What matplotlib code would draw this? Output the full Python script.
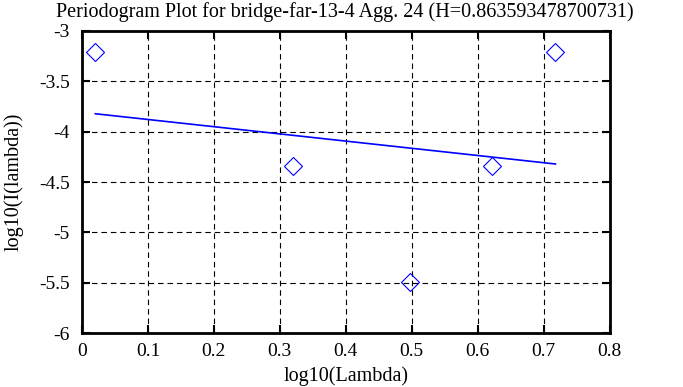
import matplotlib
matplotlib.use("Agg")
import matplotlib.pyplot as plt

# Data
log_lambda = [0.0202, 0.320, 0.497, 0.622, 0.718]
log_I = [-3.213, -4.341, -5.49, -4.341, -3.213]
fit_x = [0.0202, 0.718]
fit_y = [-3.822, -4.321]
x_ticks = [0, 0.1, 0.2, 0.3, 0.4, 0.5, 0.6, 0.7, 0.8]
y_ticks = [-6, -5.5, -5, -4.5, -4, -3.5, -3]
x_labels = ["0", "0.1", "0.2", "0.3", "0.4", "0.5", "0.6", "0.7", "0.8"]
y_labels = ["-6", "-5.5", "-5", "-4.5", "-4", "-3.5", "-3"]

plt.rcParams['font.family'] = ['Liberation Serif', 'DejaVu Serif']
plt.rcParams['axes.unicode_minus'] = False

fig = plt.figure(figsize=(6.83, 3.87), dpi=100)
ax = fig.add_axes([0.1201, 0.1395, 0.7723, 0.7804])

ax.plot(log_lambda, log_I, linestyle='none', marker='D', markersize=9.5,
        markerfacecolor='none', markeredgecolor='#0000ff', markeredgewidth=0.8)
ax.plot(fit_x, fit_y, color='#0000ff', linewidth=1.2)

ax.set_xlim(0, 0.8)
ax.set_ylim(-6, -3)
ax.set_xticks(x_ticks)
ax.set_xticklabels(x_labels)
ax.set_yticks(y_ticks)
ax.set_yticklabels(y_labels)
ax.grid(True, color='black', linestyle=(0, (5, 3.5)), linewidth=0.8)
ax.tick_params(direction='in', top=True, right=True, length=6, width=1.5,
               labelsize=14)
ax.tick_params(axis='x', pad=7)
ax.tick_params(axis='y', pad=9)
for s in ax.spines.values():
    s.set_linewidth(2)

fig.text(0.505, 0.968, "Periodogram Plot for bridge-far-13-4 Agg. 24 (H=0.863593478700731)",
         fontsize=14.5, ha='center', va='center')
ax.set_xlabel("log10(Lambda)", fontsize=14.5, labelpad=5)
ax.set_ylabel("log10(I(lambda))", fontsize=14.5, labelpad=11)

fig.savefig("out.png", dpi=100)
